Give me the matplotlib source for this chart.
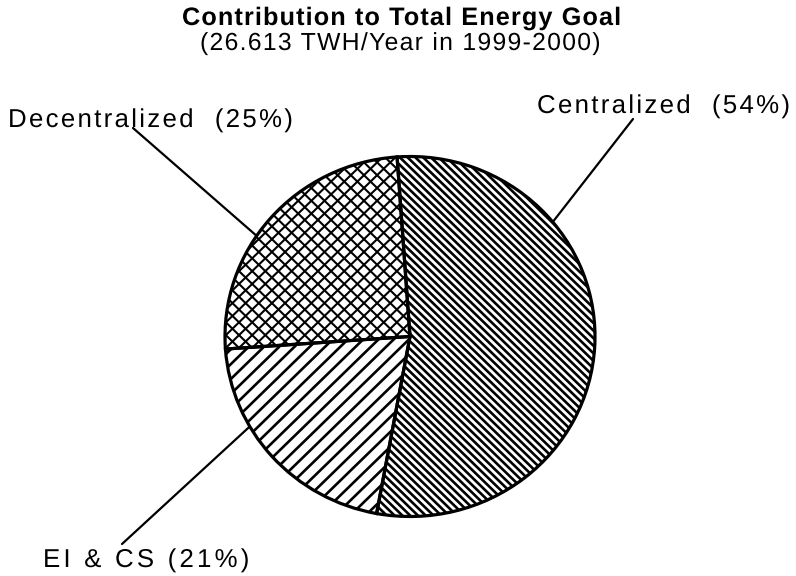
import numpy as np
import matplotlib.pyplot as plt
from matplotlib.collections import LineCollection
from matplotlib.font_manager import FontProperties
from matplotlib.patheffects import AbstractPathEffect
from matplotlib.textpath import text_to_path
from matplotlib.path import Path

plt.rcParams['font.family'] = ['Liberation Sans', 'DejaVu Sans']

# energy goal split, clockwise from the top
sectors = ['Centralized', 'EI & CS', 'Decentralized']
shares = [54, 21, 25]
sector_labels = ['Centralized  (54%)', 'EI & CS (21%)', 'Decentralized  (25%)']

title = 'Contribution to Total Energy Goal'
subtitle = '(26.613 TWH/Year in 1999-2000)'

W, H = 796, 576
KY = 185 / 180          # pie is drawn a little wider than tall


def Y(y_px):
    return (H - y_px) * KY


class Tracking(AbstractPathEffect):
    """Spreads the glyphs of a text apart by a fixed number of pixels."""

    def __init__(self, s, prop, track):
        super().__init__()
        font = text_to_path._get_font(prop)
        glyph_info = text_to_path.get_glyphs_with_font(font, s)[0]
        self.xpos = np.array([g[1] for g in glyph_info], dtype=float)
        self.track = track

    def draw_path(self, renderer, gc, tpath, affine, rgbFace=None):
        scale = affine.get_matrix()[0, 0]
        step = self.track / scale
        verts = tpath.vertices.copy()
        codes = tpath.codes
        starts = list(np.flatnonzero(codes == Path.MOVETO)) + [len(verts)]
        for a, b in zip(starts[:-1], starts[1:]):
            mid = 0.5 * (verts[a:b, 0].min() + verts[a:b, 0].max())
            i = max(np.searchsorted(self.xpos, mid, side='right') - 1, 0)
            verts[a:b, 0] += step * i
        renderer.draw_path(gc, Path(verts, codes), affine, rgbFace)


def label(x, y, s, size, track, weight='normal'):
    prop = FontProperties(family='Liberation Sans', size=size, weight=weight)
    t = ax.text(x, Y(y), s, ha='left', va='baseline', fontproperties=prop,
                zorder=5)
    t.set_path_effects([Tracking(s, prop, track)])
    return t


fig = plt.figure(figsize=(W / 100, H / 100), dpi=100)
ax = fig.add_axes([0, 0, 1, 1])

cx, cy, r = 410, Y(336.5), 185

wedges, _ = ax.pie(shares, startangle=94, counterclock=False, center=(cx, cy),
                   radius=r, colors=['white'] * 3,
                   wedgeprops=dict(edgecolor='black', linewidth=2.3))
ax.set_xlim(0, W)
ax.set_ylim(0, H * KY)
ax.set_aspect('auto')
ax.axis('off')


def hatch(wedge, angle_deg, spacing, lw):
    a = np.radians(angle_deg)
    d = np.array([np.cos(a), np.sin(a)])
    n = np.array([-d[1], d[0]])
    segs = []
    for o in np.arange(-r, r + spacing, spacing):
        p = np.array([cx, cy]) + n * o
        segs.append([p - d * r, p + d * r])
    lc = LineCollection(segs, colors='black', linewidths=lw, zorder=2)
    lc.set_clip_path(wedge)
    ax.add_collection(lc)


# fill patterns: dense back-slash, wide slash, diagonal cross
hatch(wedges[0], -45, 5.5, 1.9)
hatch(wedges[1], 45, 10.8, 1.9)
hatch(wedges[2], 45, 9.3, 1.5)
hatch(wedges[2], -45, 9.3, 1.5)

for w in wedges:
    w.set_facecolor('none')
    w.set_zorder(3)

# leader lines: angle on the rim, outer end in pixels
leaders = [(39.5, (633, 119)),
           (-150, (122, 544)),
           (146, (133, 128))]
for ang, (ox, oy) in leaders:
    t = np.radians(ang)
    ax.plot([cx + r * np.cos(t), ox], [cy + r * np.sin(t), Y(oy)],
            color='black', lw=1.6, solid_capstyle='round', zorder=4)

label_pos = [(537, 113, 2.3), (43, 567, 3.2), (8, 127, 2.3)]
for txt, (x, y, tr) in zip(sector_labels, label_pos):
    label(x, y, txt, 18.6, tr)

label(182, 25, title, 18.2, 1.1, weight='bold')
label(200, 50, subtitle, 17.8, 1.3)

fig.savefig('out.png', dpi=100, facecolor='white')
